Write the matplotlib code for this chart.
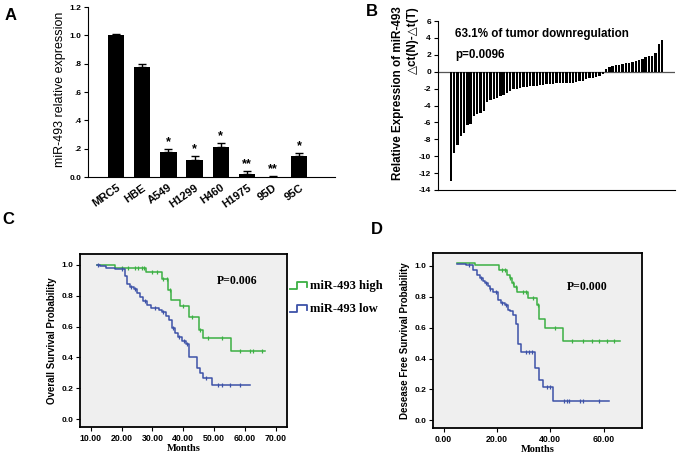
import numpy as np
import matplotlib
matplotlib.use("Agg")
import matplotlib.pyplot as plt
from matplotlib.lines import Line2D
from matplotlib.transforms import IdentityTransform

# ---------------- data ----------------
# Panel A
cell_lines = ["MRC5", "HBE", "A549", "H1299", "H460", "H1975", "95D", "95C"]
expr_vals = [1.0, 0.78, 0.18, 0.12, 0.21, 0.02, 0.003, 0.15]
expr_err = [0.01, 0.02, 0.02, 0.03, 0.03, 0.025, 0.002, 0.02]
expr_sig = ["", "", "*", "*", "*", "**", "**", "*"]
a_yticks = [0.0, 0.2, 0.4, 0.6, 0.8, 1.0, 1.2]
a_yticklabels = ["0.0", ".2", ".4", ".6", ".8", "1.0", "1.2"]

# Panel B (sorted tumour-vs-normal values)
b_values = [-12.9, -9.6, -8.7, -7.6, -7.3, -6.3, -6.2, -5.2, -5.0, -4.9, -4.6,
            -3.6, -3.4, -3.2, -3.1, -2.9, -2.7, -2.5, -2.3, -2.1, -2.0, -1.9,
            -1.85, -1.8, -1.75, -1.7, -1.65, -1.6, -1.55, -1.5, -1.45, -1.4,
            -1.38, -1.35, -1.32, -1.3, -1.3, -1.3, -1.25, -1.1, -1.05, -0.9,
            -0.8, -0.7, -0.6, -0.45, -0.3,
            0.35, 0.5, 0.7, 0.85, 0.85, 0.9, 1.0, 1.05, 1.15, 1.3, 1.4, 1.5,
            1.7, 1.8, 1.8, 2.2, 3.3, 3.8]
b_yticks = list(range(-14, 7, 2))

# Panel C (overall survival)
c_high_start, c_high_end = 12.0, 66.5
c_high_t = [18, 28, 33, 35, 36, 39, 42, 45, 46.5, 55.4]
c_high_s = [0.977, 0.953, 0.907, 0.84, 0.773, 0.733, 0.66, 0.58, 0.527, 0.439]
c_high_cens = [20, 22.2, 24.4, 25.4, 26.5, 27.3, 30, 31.5, 33.6, 34.9, 35.6, 40,
               43, 45.5, 48.2, 52.5, 58.4, 61.7, 62.8, 65.5]
c_low_start, c_low_end = 12.0, 61.7
c_low_t = [13, 15, 18, 21, 21.8, 22.8, 24, 25, 26, 27, 28.2, 29.5, 32, 33, 34.3,
           35.3, 36.3, 37.3, 38.2, 39.5, 40.9, 42, 44.4, 45.5, 46.5, 49.2]
c_low_s = [0.99, 0.98, 0.975, 0.925, 0.875, 0.855, 0.845, 0.818, 0.79, 0.768,
           0.743, 0.72, 0.709, 0.694, 0.668, 0.64, 0.593, 0.561, 0.533, 0.507,
           0.485, 0.40, 0.332, 0.297, 0.268, 0.225]
c_low_cens = [12.5, 20, 23, 24.5, 27.5, 31, 33.5, 36.8, 38.8, 40.3, 41.3, 47.5,
              51.4, 52.5, 55.2, 58.4]
c_xticks = [10, 20, 30, 40, 50, 60, 70]

# Panel D (disease free survival)
d_high_start, d_high_end, d_high_s0 = 5.0, 66.3, 1.02
d_high_t = [11.7, 20.7, 23.9, 24.8, 25.5, 26.3, 27.4, 31.8, 35.1, 35.8, 38, 44.9]
d_high_s = [1.006, 0.970, 0.942, 0.92, 0.888, 0.862, 0.828, 0.791, 0.748, 0.655,
            0.595, 0.513]
d_high_cens = [21.7, 23, 25, 26, 27, 29.9, 30.9, 33.6, 35.5, 41.8, 48.1, 52.1,
               55.6, 58.4, 61.3, 64]
d_low_start, d_low_end, d_low_s0 = 5.0, 61.9, 1.013
d_low_t = [8.5, 11.1, 12.5, 13.6, 14.6, 15.4, 16.5, 17.3, 18.6, 20.5, 21.5, 23,
           24, 25, 26.1, 27.1, 28, 28.9, 34.3, 35.9, 37.2, 40.9]
d_low_s = [1.002, 0.974, 0.942, 0.92, 0.899, 0.888, 0.87, 0.849, 0.828, 0.776,
           0.759, 0.748, 0.716, 0.705, 0.683, 0.625, 0.494, 0.44, 0.339, 0.259,
           0.216, 0.127]
d_low_cens = [9.5, 14, 16, 17.5, 19.5, 22, 23.5, 30.9, 32.1, 33.0, 38.7, 39.9,
              45.2, 46.2, 47.2, 51.2, 52.2, 58.1]
d_xticks = [0, 20, 40, 60]

km_yticks = [0.0, 0.2, 0.4, 0.6, 0.8, 1.0]

GREEN = "#3cb043"
BLUE = "#3d52a8"
SANS = "Liberation Sans"
SERIF = "Liberation Serif"

plt.rcParams["font.family"] = [SANS, "DejaVu Sans"]

fig = plt.figure(figsize=(6.8, 4.62), dpi=100)
W, H = 680.0, 462.0


def axes_px(l, t, r, b):
    return fig.add_axes([l / W, 1 - b / H, (r - l) / W, (b - t) / H])


# ---------------- Panel A ----------------
axA = axes_px(88, 7, 335, 177)
xa = np.arange(len(cell_lines))
axA.bar(xa, expr_vals, width=0.62, color="black", zorder=2)
axA.errorbar(xa, expr_vals, yerr=[np.zeros(len(expr_err)), expr_err], fmt="none",
             ecolor="black", elinewidth=1, capsize=3, capthick=1, zorder=3)
for xi, v, e, s in zip(xa, expr_vals, expr_err, expr_sig):
    if s:
        axA.text(xi, v + e + 0.005, s, ha="center", va="bottom", fontsize=9,
                 fontweight="bold")
axA.set_xlim(-1.07, 8.36)
axA.set_ylim(0, 1.2)
axA.set_yticks(a_yticks)
axA.set_yticklabels(a_yticklabels, fontsize=6, fontweight="bold")
axA.set_xticks(xa)
axA.set_xticklabels(cell_lines, rotation=35, ha="right", rotation_mode="anchor",
                    fontsize=8, fontweight="bold")
axA.tick_params(axis="x", length=0, pad=4)
axA.tick_params(axis="y", direction="out", length=3, width=0.8, pad=2)
for sp in ["top", "right"]:
    axA.spines[sp].set_visible(False)
fig.text(60 / W, 1 - 89 / H, "miR-493 relative expression", rotation=90,
         ha="center", va="center", fontsize=9)

# ---------------- Panel B ----------------
axB = axes_px(438, 21, 675, 190)
xb = np.arange(len(b_values))
axB.bar(xb, b_values, width=0.72, color="black", zorder=2)
axB.axhline(0, color="#555555", lw=0.9, zorder=1)
axB.set_xlim(-3.9, 67.9)
axB.set_ylim(-14, 6)
axB.set_yticks(b_yticks)
axB.set_yticklabels([str(v) for v in b_yticks], fontsize=6, fontweight="bold")
axB.set_xticks([])
axB.tick_params(axis="y", direction="out", length=3, width=0.8, pad=2)
for sp in ["top", "right"]:
    axB.spines[sp].set_visible(False)
axB.text(455, H - 34, "63.1% of tumor downregulation", fontsize=8.4,
         fontweight="bold", va="center", transform=IdentityTransform())
axB.text(455, H - 55, "p=0.0096", fontsize=8.4, fontweight="bold",
         va="center", transform=IdentityTransform())
fig.text(398 / W, 1 - 6 / H, "Relative Expression of miR-493", rotation=90,
         ha="center", va="top", fontsize=8.4, fontweight="bold")
fig.text(413 / W, 1 - 6 / H, "\u25b3ct(N)-\u25b3t(T)", rotation=90,
         ha="center", va="top", fontsize=8.4, fontweight="bold",
         family=[SANS, "DejaVu Sans"])


# ---------------- KM helper ----------------
def km(ax, start, s0, times, surv, end, cens, color):
    x = [start] + list(times) + [end]
    y = [s0] + list(surv) + [surv[-1]]
    ax.step(x, y, where="post", color=color, lw=1.1, zorder=3)
    tarr = np.array(times)
    cy = []
    for c in cens:
        i = np.searchsorted(tarr, c, side="right")
        cy.append(s0 if i == 0 else surv[i - 1])
    ax.plot(cens, cy, ls="none", marker="|", ms=3.5, mew=0.9, color=color,
            zorder=4)


def km_axes(ax, xticks, xlim, ylabel):
    ax.set_facecolor("#efefef")
    ax.set_xlim(*xlim)
    ax.set_ylim(-0.05, 1.07)
    ax.set_xticks(xticks)
    ax.set_xticklabels(["%.2f" % v for v in xticks], fontsize=6.3,
                       fontweight="bold")
    ax.set_yticks(km_yticks)
    ax.set_yticklabels(["%.1f" % v for v in km_yticks], fontsize=6,
                       fontweight="bold")
    ax.tick_params(direction="out", length=3, width=0.8, pad=2)
    for sp in ax.spines.values():
        sp.set_linewidth(1.3)
    ax.set_xlabel("Months", fontsize=7.5, fontweight="bold", family=SERIF,
                  labelpad=1)
    ax.set_ylabel(ylabel, fontsize=7, fontweight="bold", labelpad=3)


# ---------------- Panel C ----------------
axC = axes_px(80, 254, 287, 427)
km(axC, c_high_start, 1.0, c_high_t, c_high_s, c_high_end, c_high_cens, GREEN)
km(axC, c_low_start, 1.0, c_low_t, c_low_s, c_low_end, c_low_cens, BLUE)
km_axes(axC, c_xticks, (6.5, 73.7), "Overall Survival Probability")
axC.text(237, H - 281, "P=0.006", family=SERIF, fontweight="bold", fontsize=8.5,
         ha="center", va="center", transform=IdentityTransform())

# ---------------- Panel D ----------------
axD = axes_px(433, 253, 642, 428)
km(axD, d_high_start, d_high_s0, d_high_t, d_high_s, d_high_end, d_high_cens,
   GREEN)
km(axD, d_low_start, d_low_s0, d_low_t, d_low_s, d_low_end, d_low_cens, BLUE)
km_axes(axD, d_xticks, (-4.0, 74.4), "Desease Free Survival Probability")
axD.set_ylim(-0.049, 1.082)
axD.text(587, H - 287, "P=0.000", family=SERIF, fontweight="bold", fontsize=8.5,
         ha="center", va="center", transform=IdentityTransform())

# ---------------- legend (between C and D) ----------------
for (ytxt, label, color) in [(286, "miR-493 high", GREEN),
                             (309, "miR-493 low", BLUE)]:
    xs = np.array([290, 297, 297, 307, 307]) / W
    ys = 1 - np.array([ytxt + 3, ytxt + 3, ytxt - 4, ytxt - 4, ytxt + 1]) / H
    fig.add_artist(Line2D(xs, ys, color=color, lw=1.3))
    fig.text(310 / W, 1 - ytxt / H, label, family=SERIF, fontweight="bold",
             fontsize=9, va="center", ha="left")

# ---------------- panel letters ----------------
for (px, py, lab) in [(11, 15, "A"), (372, 12, "B"), (8, 220, "C"), (377, 230, "D")]:
    fig.text(px / W, 1 - py / H, lab, fontsize=12, fontweight="bold",
             ha="center", va="center")

fig.savefig("out.png", dpi=100)
